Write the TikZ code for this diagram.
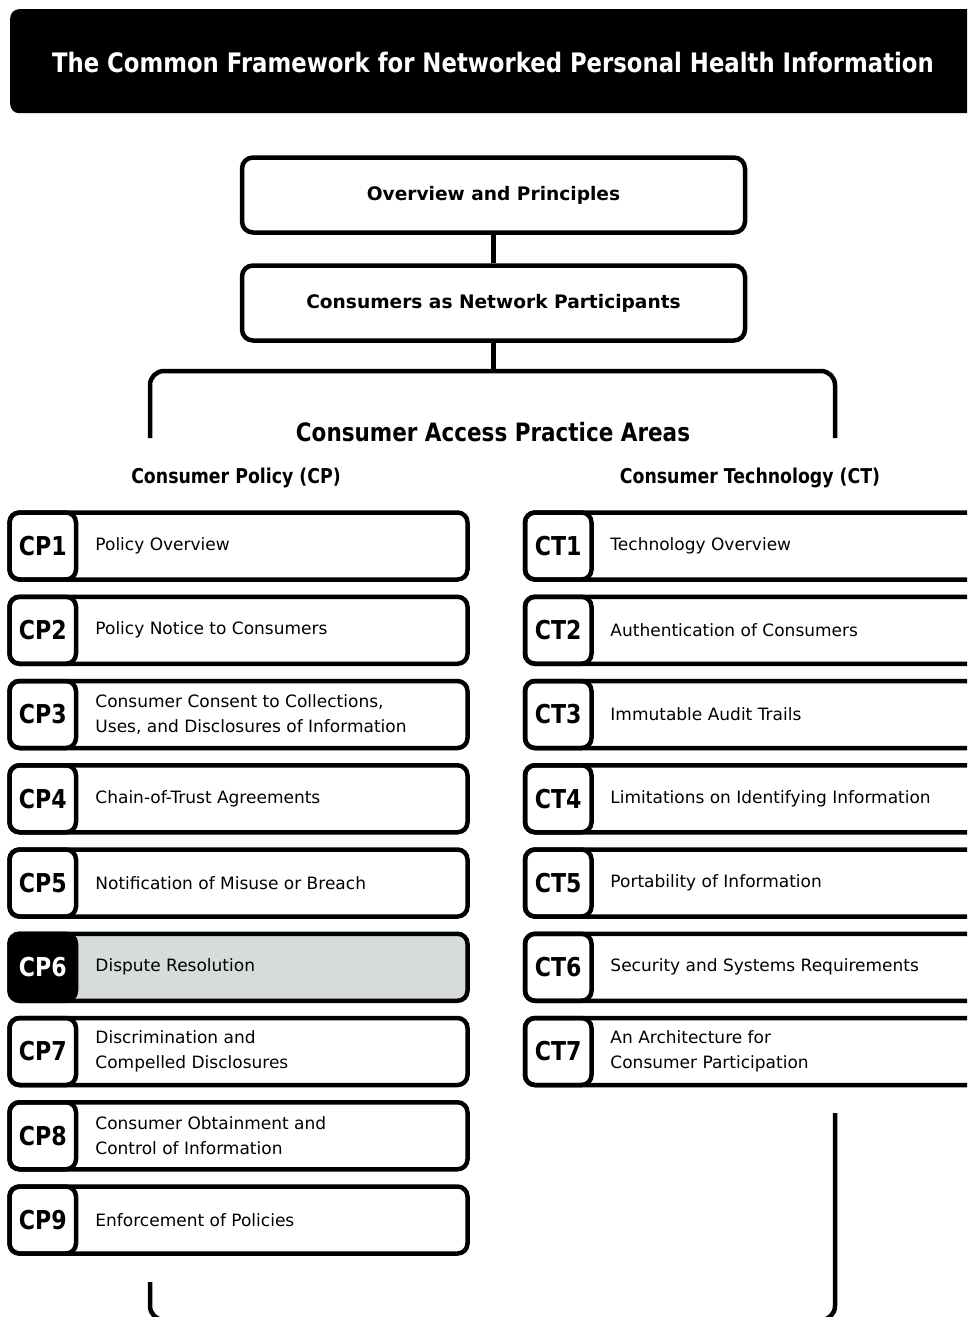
\documentclass[tikz,border=0pt]{standalone}
\usepackage{fontspec}
\setmainfont{DejaVu Sans}
\newfontfamily\squarefont{DejaVu Sans}[FakeStretch=0.85]
\usetikzlibrary{positioning}
\definecolor{disputegray}{RGB}{214,219,219}

\tikzset{
  link/.style={line width=4.5pt},
  topbox/.style={draw, line width=4.5pt, rounded corners=11pt, minimum width=503pt,
    minimum height=75pt, font=\fontsize{18.6}{22}\selectfont\bfseries},
  rowbox/.style={draw, line width=4.5pt, rounded corners=10pt, minimum height=67pt,
    anchor=west, inner sep=0pt},
  codebox/.style={rowbox, minimum width=66.5pt,
    font=\squarefont\fontsize{26}{27}\selectfont\bfseries},
  rowtext/.style={anchor=west, align=left, inner sep=0pt, font=\fontsize{17}{25}\selectfont},
  head/.style={inner sep=0pt, font=\squarefont\bfseries},
  std row/.style={}, std code/.style={},
  hl row/.style={fill=disputegray}, hl code/.style={fill=black, text=white},
}

\begin{document}
\begin{tikzpicture}[x=1pt, y=-1pt]
  \useasboundingbox (0,0) rectangle (967,1317);
  \clip (0,0) rectangle (967,1317);

  % banner
  \node[fill=black, rounded corners=9pt, minimum width=990pt, minimum height=104pt,
    anchor=north west, inner sep=0pt] (banner) at (10,9) {};
  \node[head, text=white, font=\squarefont\bfseries\fontsize{26.8}{30}\selectfont] (title) at (493,63)
    {The Common Framework for Networked Personal Health Information};

  % overview boxes
  \node[topbox] (ovw) at (493.5,195) {Overview and Principles};
  \node[topbox, below=28.5pt of ovw] (cnp) {Consumers as Network Participants};
  \draw[link] (ovw) -- (cnp);

  \coordinate (fork) at (493.5,371);
  \coordinate (cpleg) at (150,438);
  \coordinate (ctleg) at (835,438);
  \draw[link] (cnp) -- (fork);
  \draw[link, rounded corners=14pt] (cpleg) |- (fork) -| (ctleg);

  \node[head, font=\squarefont\bfseries\fontsize{25.3}{28}\selectfont] (areas) at (493,432)
    {Consumer Access Practice Areas};
  \node[head, font=\squarefont\bfseries\fontsize{20.4}{24}\selectfont] (cphead) at (236,478)
    {Consumer Policy (CP)};
  \node[head, font=\squarefont\bfseries\fontsize{20.4}{24}\selectfont] (cthead) at (750,478)
    {Consumer Technology (CT)};

  % policy column
  \foreach \i/\txt/\look in {
      1/{Policy Overview}/std,
      2/{Policy Notice to Consumers}/std,
      3/{Consumer Consent to Collections,\\Uses, and Disclosures of Information}/std,
      4/{Chain-of-Trust Agreements}/std,
      5/{Notification of Misuse or Breach}/std,
      6/{Dispute Resolution}/hl,
      7/{Discrimination and\\Compelled Disclosures}/std,
      8/{Consumer Obtainment and\\Control of Information}/std,
      9/{Enforcement of Policies}/std} {
    \node[rowbox, \look\space row, minimum width=458pt] (cprow\i) at (7.25,{546+(\i-1)*84.25}) {};
    \node[codebox, \look\space code] (cpcode\i) at (7.25,{546+(\i-1)*84.25}) {CP\i};
    \node[rowtext, right=17pt of cpcode\i] (cptext\i) {\txt};
  }

  % technology column
  \foreach \i/\txt in {
      1/{Technology Overview},
      2/{Authentication of Consumers},
      3/{Immutable Audit Trails},
      4/{Limitations on Identifying Information},
      5/{Portability of Information},
      6/{Security and Systems Requirements},
      7/{An Architecture for\\Consumer Participation}} {
    \node[rowbox, minimum width=475pt] (ctrow\i) at (522.75,{546+(\i-1)*84.25}) {};
    \node[codebox] (ctcode\i) at (522.75,{546+(\i-1)*84.25}) {CT\i};
    \node[rowtext, right=16.5pt of ctcode\i] (cttext\i) {\txt};
  }

  % closing bracket
  \coordinate (cpfoot) at (150,1282);
  \coordinate (ctfoot) at (835,1113);
  \draw[link, rounded corners=14pt] (cpfoot) |- (493.5,1320) -| (ctfoot);
\end{tikzpicture}
\end{document}
